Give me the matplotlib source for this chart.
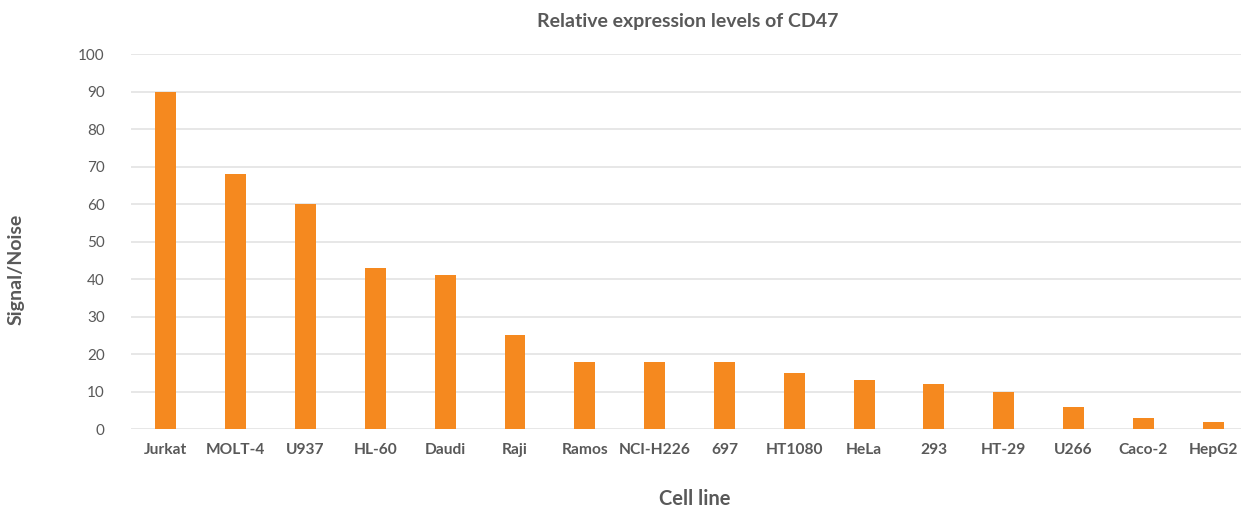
import matplotlib
matplotlib.use("Agg")
import matplotlib.pyplot as plt

# Data
cell_lines = ["Jurkat", "MOLT-4", "U937", "HL-60", "Daudi", "Raji", "Ramos",
              "NCI-H226", "697", "HT1080", "HeLa", "293", "HT-29", "U266",
              "Caco-2", "HepG2"]
signal_noise = [90, 68, 60, 43, 41, 25, 18, 18, 18, 15, 13, 12, 10, 6, 3, 2]
y_ticks = [0, 10, 20, 30, 40, 50, 60, 70, 80, 90, 100]

BAR_COLOR = "#F5891F"
TEXT_COLOR = "#595959"
GRID_COLOR = "#E3E3E3"

plt.rcParams["font.family"] = ["Lato", "DejaVu Sans"]

fig = plt.figure(figsize=(12.41, 5.08), dpi=100)
ax = fig.add_axes([0.1056, 0.1555, 0.8944, 0.7382])

x = list(range(len(cell_lines)))
ax.bar(x, signal_noise, width=0.3, color=BAR_COLOR, zorder=3)

ax.set_xlim(-0.5, 15.4)
ax.set_ylim(0, 100)
ax.set_yticks(y_ticks)
ax.set_xticks(x)
ax.set_xticklabels(cell_lines, fontsize=11.2, fontweight="bold", color=TEXT_COLOR)
ax.tick_params(axis="y", labelsize=11, labelcolor=TEXT_COLOR, length=0, pad=19)
ax.tick_params(axis="x", length=0, pad=10)

ax.grid(axis="y", color=GRID_COLOR, linewidth=1.2, zorder=0)
for s in ax.spines.values():
    s.set_visible(False)

fig.text(0.554, 0.958, "Relative expression levels of CD47", ha="center", va="center",
         fontsize=14, fontweight="bold", color=TEXT_COLOR)
fig.text(0.013, 0.47, "Signal/Noise", ha="center", va="center", rotation=90,
         fontsize=14, fontweight="bold", color=TEXT_COLOR)
fig.text(0.56, 0.018, "Cell line", ha="center", va="center",
         fontsize=14.5, fontweight="bold", color=TEXT_COLOR)

fig.savefig("out.png", dpi=100)
